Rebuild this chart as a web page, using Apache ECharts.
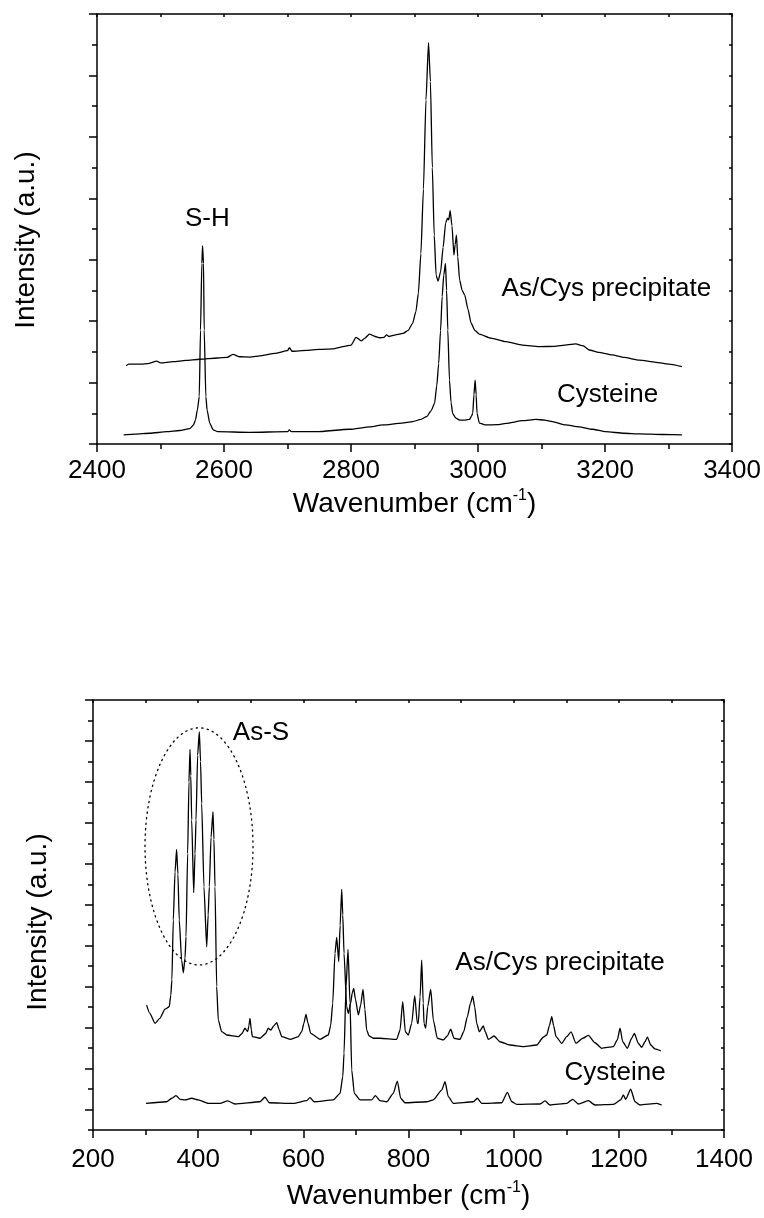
<!DOCTYPE html>
<html><head><meta charset="utf-8">
<script src="https://cdn.jsdelivr.net/npm/echarts@6/dist/echarts.min.js"></script>
<style>html,body{margin:0;padding:0;background:#fff}#c{width:764px;height:1218px}</style>
</head><body><div id="c"></div>
<script>
// ---------- data ----------
// Top panel: high wavenumber region
const topPrecipitate = [[2446,2.55],[2450,2.6],[2470,2.6],[2480,2.62],[2494,2.7],[2500,2.64],[2520,2.68],[2540,2.72],[2562,2.76],[2590,2.8],[2605,2.82],[2614,2.92],[2625,2.84],[2640,2.83],[2660,2.88],[2680,2.95],[2700,3.04],[2703,3.14],[2707,3.02],[2730,3.05],[2750,3.08],[2771,3.1],[2790,3.18],[2800,3.22],[2808,3.47],[2816,3.36],[2822,3.45],[2829,3.58],[2838,3.5],[2845,3.46],[2852,3.47],[2856,3.55],[2860,3.5],[2870,3.55],[2882,3.6],[2890,3.7],[2897,3.93],[2902,4.3],[2906,4.9],[2910,6.2],[2914,8.3],[2918,11.2],[2922,13.07],[2925,11.8],[2928,9.0],[2931,6.8],[2934,5.5],[2937,5.3],[2941,5.6],[2945,6.4],[2949,7.2],[2952,7.35],[2954,7.3],[2956,7.6],[2959,7.1],[2962,6.15],[2964,6.5],[2966,6.8],[2968,6.1],[2971,5.34],[2975,5.0],[2979,4.85],[2984,4.4],[2989,3.94],[2995,3.7],[3002,3.58],[3020,3.45],[3044,3.33],[3070,3.22],[3096,3.17],[3120,3.18],[3140,3.23],[3154,3.26],[3165,3.2],[3175,3.06],[3190,2.98],[3211,2.9],[3230,2.82],[3254,2.73],[3280,2.66],[3300,2.6],[3321,2.52]];
const topCysteine = [[2442,0.3],[2460,0.32],[2483,0.35],[2510,0.4],[2530,0.44],[2546,0.5],[2552,0.62],[2555,0.78],[2558,1.1],[2561,1.54],[2563,3.71],[2565.1,5.88],[2566.2,6.45],[2567.7,5.88],[2568.8,3.71],[2571.4,1.54],[2573.4,1.1],[2577.5,0.68],[2583,0.46],[2590,0.4],[2640,0.38],[2700,0.4],[2703,0.46],[2706,0.4],[2745,0.4],[2798,0.48],[2830,0.56],[2850,0.62],[2880,0.68],[2897,0.73],[2910,0.8],[2919,0.89],[2926,1.08],[2931.5,1.32],[2935,1.9],[2938,2.62],[2941,3.7],[2943.5,4.8],[2946,5.5],[2948.7,5.88],[2950.5,5.0],[2952.4,3.71],[2955,2.08],[2957.5,1.35],[2960,1.0],[2965,0.84],[2971,0.78],[2980,0.78],[2986.5,0.8],[2989.5,0.9],[2991.7,1.0],[2993.5,1.6],[2995.4,2.08],[2997,1.6],[2998.4,1.0],[3002,0.68],[3013,0.62],[3030,0.63],[3044,0.67],[3070,0.76],[3091,0.8],[3105,0.78],[3117,0.73],[3138,0.62],[3159,0.56],[3180,0.48],[3201,0.4],[3230,0.35],[3254,0.33],[3290,0.31],[3321,0.3]];
// Bottom panel: low wavenumber region
const bottomPrecipitate = [[302,6.1],[308,5.7],[318,5.21],[327,5.45],[337,5.9],[345,6.02],[348,6.6],[350,7.33],[352.7,10.26],[356,12.6],[359,13.7],[361.5,12.5],[364,10.26],[368.6,8.3],[371.8,7.68],[375,8.4],[376.9,9.44],[380,13.5],[382.5,17],[384.5,18.59],[386,17.3],[387.7,15.14],[391.5,11.59],[394,13.5],[395.9,15.14],[399,18.3],[402.2,19.45],[404.5,18.0],[406.7,15.95],[411,11.88],[416.2,8.95],[419,10.5],[421.2,11.88],[424.5,14.3],[428.2,15.55],[430,14.2],[432,11.88],[435.2,7.0],[438.3,5.37],[444.7,4.8],[454.3,4.64],[476.4,4.56],[483,4.7],[489,4.97],[494.2,4.8],[496.5,5.1],[498.6,5.45],[501,4.9],[503,4.56],[517.6,4.48],[528,4.7],[533.4,4.97],[538,4.88],[544,5.1],[549.4,5.24],[554,4.9],[558.9,4.56],[574.7,4.43],[590,4.55],[596.9,4.8],[601,5.2],[605,5.65],[609,5.2],[614,4.72],[631.7,4.43],[647.5,4.64],[652,5.1],[655.9,6.19],[660.2,8.63],[663.5,9.41],[667.3,8.22],[670,10],[673,11.75],[675,10.5],[677.4,8.63],[682.4,6.02],[685.6,5.7],[690,6.19],[693,6.7],[695.8,6.92],[699,6.4],[704.6,5.62],[709,6.1],[713.5,6.87],[717,5.9],[720.5,4.88],[725,4.6],[733,4.48],[745.8,4.48],[777.6,4.43],[783.9,4.88],[789,6.27],[794,4.8],[799.7,4.64],[806.1,5.21],[811.8,6.56],[816.8,5.21],[818.5,5.2],[822,6.5],[825.1,8.3],[828,6.2],[829.5,5.21],[832.7,4.97],[836.5,6.02],[842.3,6.87],[847.2,5.37],[854.8,4.48],[866.3,4.4],[874,4.6],[880.3,4.92],[886.6,4.48],[898,4.43],[905,4.8],[911.9,5.53],[918,6.2],[922.1,6.54],[926,6.0],[929.8,5.21],[934.7,4.8],[942.3,5.08],[946,4.8],[951.8,4.43],[962.6,4.59],[974,4.31],[993,4.15],[1018.4,4.07],[1043.8,4.15],[1056.4,4.53],[1062.9,4.64],[1068,5.1],[1072.4,5.53],[1076,5.1],[1080.6,4.56],[1091.4,4.23],[1100.9,4.56],[1109.1,4.79],[1118.6,4.23],[1131.3,4.48],[1142,4.62],[1154.7,4.26],[1167.5,3.99],[1189.6,4.07],[1197.1,4.4],[1202.3,4.97],[1207.4,4.31],[1216.2,3.99],[1224.5,4.48],[1229.5,4.72],[1237.1,4.23],[1243.5,4.04],[1249.8,4.31],[1254.3,4.54],[1260.7,4.15],[1268.8,3.96],[1279.7,3.86]];
const bottomCysteine = [[300.8,1.3],[340,1.38],[349.7,1.55],[357.9,1.68],[365.5,1.5],[375,1.47],[387.7,1.55],[400.3,1.47],[419.3,1.3],[441.5,1.3],[456.2,1.42],[470,1.27],[517.6,1.38],[527,1.6],[535.3,1.33],[580.9,1.3],[606.4,1.43],[612.7,1.58],[620.3,1.38],[657,1.47],[669.8,1.79],[675,2.6],[677.4,3.75],[681.2,7.0],[685,8.82],[688.8,6.19],[692,2.93],[697,1.79],[707.8,1.47],[730,1.47],[737,1.68],[745.8,1.43],[758.5,1.38],[771.1,1.79],[778.7,2.39],[785.2,1.55],[793.4,1.33],[834.6,1.38],[847.2,1.47],[863.2,1.95],[869.5,2.36],[875.7,1.63],[885.3,1.3],[923.3,1.38],[930.9,1.55],[939.3,1.3],[977.3,1.33],[988,1.84],[996.3,1.38],[1005.8,1.25],[1050.1,1.27],[1059.6,1.42],[1069.2,1.22],[1100.9,1.3],[1112.3,1.5],[1123,1.27],[1142,1.43],[1154.7,1.22],[1189.6,1.25],[1203.6,1.47],[1208.6,1.71],[1213.1,1.5],[1222.6,1.99],[1230.8,1.38],[1240.3,1.22],[1272.1,1.3],[1281.6,1.22]];
// axis ranges / ticks
const topXRange = [2400, 3400];
const topYRange = [0, 14];
const bottomXRange = [200, 1400];
const bottomYRange = [0, 21];
const bottomYMajorTicks = [1,3,5,7,9,11,13,15,17,19,21];
// annotations: [text, x, y] in data units
const topNotes = [['S-H', 2573.7, 7.33], ['As/Cys precipitate', 3202, 5.06], ['Cysteine', 3204, 1.6]];
const bottomNotes = [['As-S', 519.5, 19.41], ['As/Cys precipitate', 1088.2, 8.16], ['Cysteine', 1192.8, 2.79]];
const ellipseNote = {cx: 401.6, cy: 13.85, rx: 102.7, ry: 5.79};

// ---------- chart ----------
const FONT = '"Liberation Sans", Arial, Helvetica, sans-serif';
const BLK = '#000';
const line = {show: true, onZero: false, lineStyle: {color: BLK, width: 1.5}};
const tickStyle = {color: BLK, width: 1.5};
const xLabel = m => ({show: true, color: BLK, fontSize: 26, fontFamily: FONT, margin: m, showMinLabel: true, showMaxLabel: true, formatter: v => String(v)});
const xName = gap => ({
  name: '{a|Wavenumber (cm}{b|-1}{a|)}', nameLocation: 'middle', nameGap: gap,
  nameTextStyle: {rich: {
    a: {fontSize: 28, fontFamily: FONT, color: BLK, lineHeight: 32},
    b: {fontSize: 16, fontFamily: FONT, color: BLK, lineHeight: 16, verticalAlign: 'top'}
  }}
});
function bottomX(grid, range, itv, margin, gap) {
  return Object.assign({
    gridIndex: grid, type: 'value', min: range[0], max: range[1], interval: itv, position: 'bottom',
    axisLine: line, axisTick: {show: true, length: 8, lineStyle: tickStyle},
    minorTick: {show: true, splitNumber: 2, length: 5, lineStyle: tickStyle},
    splitLine: {show: false}, minorSplitLine: {show: false}, axisLabel: xLabel(margin)
  }, xName(gap));
}
function topX(grid, range) {
  return {gridIndex: grid, type: 'value', min: range[0], max: range[1], interval: 100, position: 'top',
    axisLine: line, axisTick: {show: true, inside: true, length: 3, lineStyle: tickStyle},
    axisLabel: {show: false}, splitLine: {show: false}};
}
function rightY(grid, range) {
  return {gridIndex: grid, type: 'value', min: range[0], max: range[1], interval: 1, position: 'right',
    axisLine: line, axisTick: {show: true, inside: true, length: 3, lineStyle: tickStyle},
    axisLabel: {show: false}, splitLine: {show: false}};
}
const yName = (gap, pad) => ({name: 'Intensity (a.u.)', nameLocation: 'middle', nameGap: gap,
  nameTextStyle: {fontSize: 28, fontFamily: FONT, color: BLK, padding: [0, pad, 0, 0]}});

function ser(x, y, data) {
  return {type: 'line', xAxisIndex: x, yAxisIndex: y, data: data, showSymbol: false, symbol: 'none',
    smooth: 0.2, smoothMonotone: 'x', silent: true, lineStyle: {color: BLK, width: 1.3}};
}

const chart = echarts.init(document.getElementById('c'), null, {renderer: 'canvas'});
chart.setOption({
  animation: false,
  backgroundColor: '#fff',
  grid: [
    {left: 97, top: 14, width: 636, height: 430},
    {left: 93, top: 700, width: 631, height: 430},
    {left: 93, top: 700, width: 631, height: 430}
  ],
  xAxis: [
    bottomX(0, topXRange, 200, 14, 44),
    topX(0, topXRange),
    bottomX(1, bottomXRange, 200, 17, 50),
    topX(1, bottomXRange),
    {gridIndex: 2, type: 'value', min: bottomXRange[0], max: bottomXRange[1], show: false}
  ],
  yAxis: [
    Object.assign({gridIndex: 0, type: 'value', min: topYRange[0], max: topYRange[1], interval: 2, position: 'left',
      axisLine: line, axisTick: {show: true, length: 8, lineStyle: tickStyle},
      minorTick: {show: true, splitNumber: 2, length: 5, lineStyle: tickStyle},
      axisLabel: {show: false}, splitLine: {show: false}, minorSplitLine: {show: false}}, yName(57, 22)),
    rightY(0, topYRange),
    Object.assign({gridIndex: 1, type: 'value', min: bottomYRange[0], max: bottomYRange[1], interval: 1, position: 'left',
      axisLine: line, axisTick: {show: true, length: 5, lineStyle: tickStyle},
      axisLabel: {show: false}, splitLine: {show: false}}, yName(41, 14)),
    rightY(1, bottomYRange),
    {gridIndex: 2, type: 'value', min: bottomYRange[0], max: bottomYRange[1], interval: 1, position: 'left',
      axisLine: {show: false}, axisTick: {show: true, length: 8, lineStyle: tickStyle, customValues: bottomYMajorTicks},
      axisLabel: {show: false}, splitLine: {show: false}}
  ],
  series: [
    ser(0, 0, topPrecipitate),
    ser(0, 0, topCysteine),
    ser(2, 2, bottomPrecipitate),
    ser(2, 2, bottomCysteine)
  ]
});

function noteText(grid, n) {
  const p = chart.convertToPixel({gridIndex: grid}, [n[1], n[2]]);
  return {type: 'text', silent: true, x: p[0], y: p[1],
    style: {text: n[0], fill: BLK, fontSize: 26, fontFamily: FONT, align: 'center', verticalAlign: 'middle'}};
}
const c = chart.convertToPixel({gridIndex: 1}, [ellipseNote.cx, ellipseNote.cy]);
const e = chart.convertToPixel({gridIndex: 1}, [ellipseNote.cx + ellipseNote.rx, ellipseNote.cy + ellipseNote.ry]);
const graphics = topNotes.map(n => noteText(0, n)).concat(bottomNotes.map(n => noteText(1, n)));
graphics.push({type: 'ellipse', silent: true,
  shape: {cx: c[0], cy: c[1], rx: Math.abs(e[0] - c[0]), ry: Math.abs(c[1] - e[1])},
  style: {fill: 'none', stroke: BLK, lineWidth: 1.3, lineDash: [1.3, 4.2], lineCap: 'round'}});
chart.setOption({graphic: graphics});
</script>
</body></html>
